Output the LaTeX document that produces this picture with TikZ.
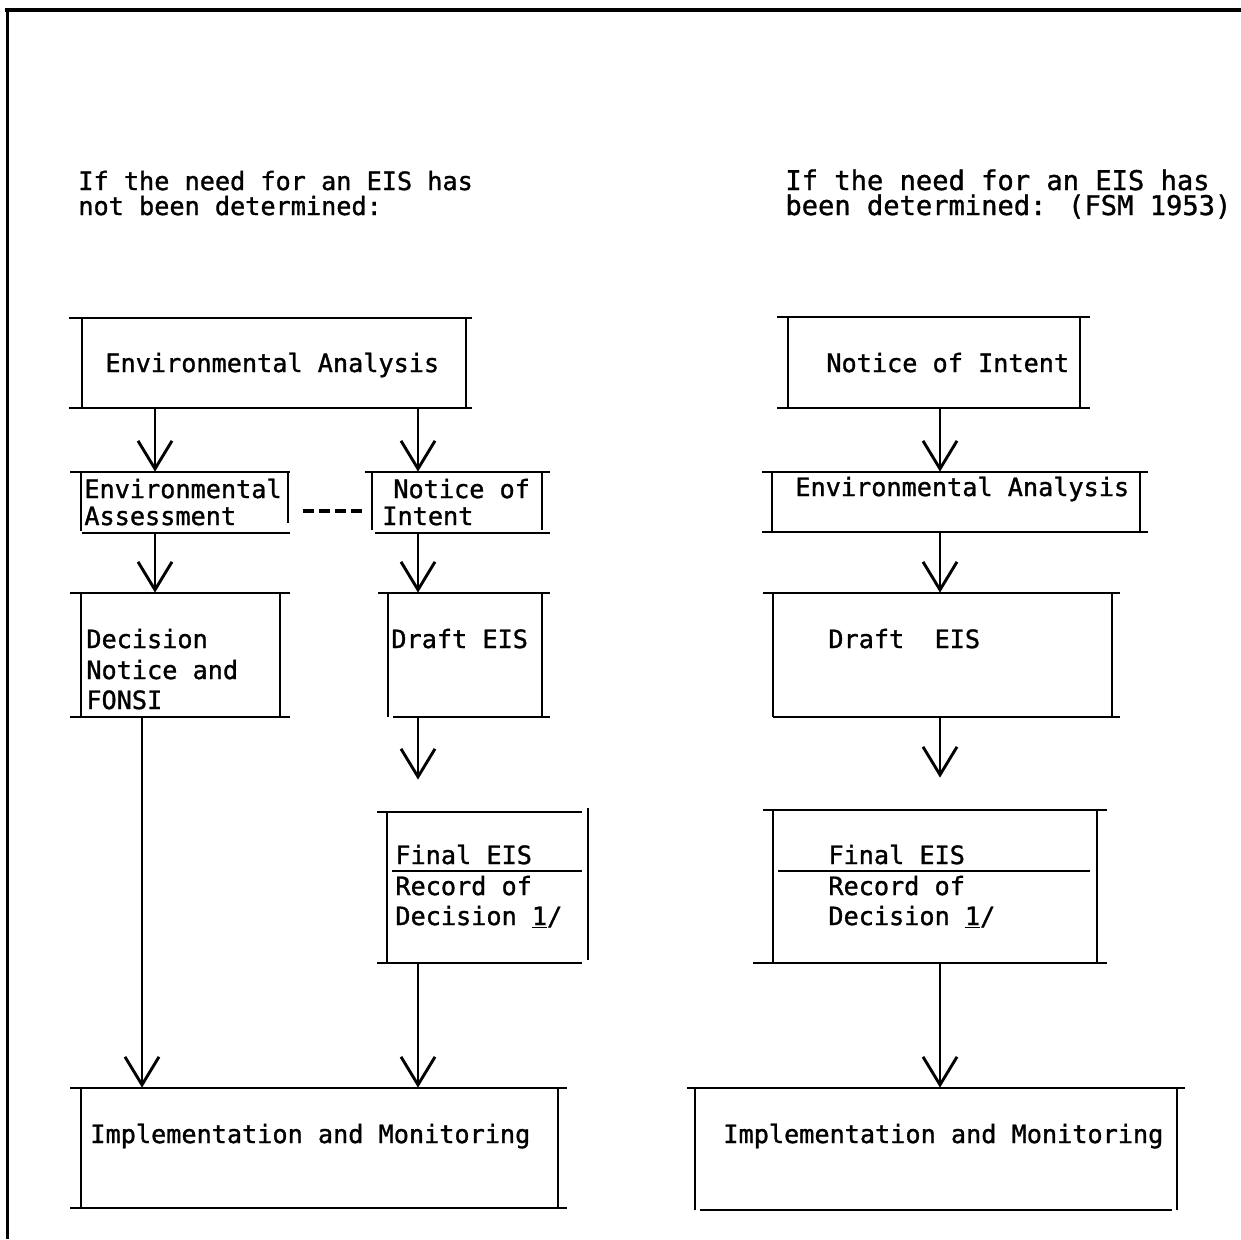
\documentclass[tikz,border=0pt]{standalone}
\usepackage{fontspec}
\newfontfamily\tw[FakeBold=1.2]{DejaVu Sans Mono}
\usetikzlibrary{arrows.meta,fit,calc}
\begin{document}
\begin{tikzpicture}[x=0.5pt,y=-0.5pt,
  ln/.style={line width=1.45pt},
  txt/.style={font=\tw\fontsize{12.6}{15}\selectfont, inner sep=0pt, anchor=base west},
  wide/.style={font=\tw\fontsize{13.55}{16}\selectfont},
  area/.style={inner sep=0pt, draw=none},
  arr/.style={line width=1.45pt, -{Straight Barb[length=14pt,width=17pt,line width=1.45pt]}},
  dashln/.style={line width=1.7pt, dash pattern=on 5.5pt off 2.5pt}]
\useasboundingbox (0,0) rectangle (1241,1239);
% frame
\draw[line width=2.4pt] (5,10) -- (1241,10);
\draw[line width=1.5pt] (7,10) -- (7,1239);
% headers
\node[txt] (hL1) at (78,190) {If the need for an EIS has};
\node[txt] (hL2) at (78,215) {not been determined:};
\node[txt,wide] (hR1) at (785,190) {If the need for an EIS has};
\node[txt,wide] (hR2) at (785,215) {been determined: (FSM 1953)};
% ---------- left column ----------
\node[area, fit={(82,318)(466,408)}] (ea) {};
\draw[ln] (69,318) -- (472,318); \draw[ln] (69,408) -- (472,408);
\draw[ln] (82,318) -- (82,408); \draw[ln] (466,318) -- (466,408);
\node[txt] (eaT) at (105,372) {Environmental Analysis};

\node[area, fit={(81,472)(288,533)}] (ass) {};
\draw[ln] (70,472) -- (290,472); \draw[ln] (82,533) -- (290,533);
\draw[ln] (81,472) -- (81,531); \draw[ln] (288,472) -- (288,523);
\node[txt] (assT1) at (84,498) {Environmental};
\node[txt] (assT2) at (84,525) {Assessment};

\node[area, fit={(372,472)(542,533)}] (noi) {};
\draw[ln] (365,472) -- (550,472); \draw[ln] (375,533) -- (550,533);
\draw[ln] (372,472) -- (372,530); \draw[ln] (542,472) -- (542,530);
\node[txt] (noiT1) at (393,498) {Notice of};
\node[txt] (noiT2) at (382,525) {Intent};

\draw[dashln] ($(ass.east)+(15,8.5)$) -- ($(noi.west)+(-10,8.5)$);

\node[area, fit={(81,593)(280,717)}] (dec) {};
\draw[ln] (70,593) -- (290,593); \draw[ln] (70,717) -- (290,717);
\draw[ln] (81,593) -- (81,717); \draw[ln] (280,593) -- (280,717);
\node[txt] (decT1) at (86,648) {Decision};
\node[txt] (decT2) at (86,679) {Notice and};
\node[txt] (decT3) at (86,709) {FONSI};

\node[area, fit={(388,593)(542,717)}] (dr) {};
\draw[ln] (378,593) -- (550,593); \draw[ln] (393,717) -- (550,717);
\draw[ln] (388,593) -- (388,717); \draw[ln] (542,593) -- (542,717);
\node[txt] (drT) at (391,648) {Draft EIS};

\node[area, fit={(387,812)(588,963)}] (fin) {};
\draw[ln] (377,812) -- (582,812); \draw[ln] (377,963) -- (582,963);
\draw[ln] (387,812) -- (387,963); \draw[ln] (588,808) -- (588,960);
\draw[ln] (392,871) -- (582,871);
\node[txt] (finT1) at (395,864) {Final EIS};
\node[txt] (finT2) at (395,895) {Record of};
\node[txt] (finT3) at (395,925) {Decision \underline{1}/};

\node[area, fit={(81,1088)(558,1208)}] (impL) {};
\draw[ln] (70,1088) -- (567,1088); \draw[ln] (70,1208) -- (567,1208);
\draw[ln] (81,1088) -- (81,1208); \draw[ln] (558,1088) -- (558,1208);
\node[txt] (impLT) at (90,1143) {Implementation and Monitoring};

% ---------- right column ----------
\node[area, fit={(788,317)(1080,408)}] (noiR) {};
\draw[ln] (777,317) -- (1090,317); \draw[ln] (777,408) -- (1090,408);
\draw[ln] (788,317) -- (788,408); \draw[ln] (1080,317) -- (1080,408);
\node[txt] (noiRT) at (826,372) {Notice of Intent};

\node[area, fit={(772,472)(1140,532)}] (eaR) {};
\draw[ln] (762,472) -- (1148,472); \draw[ln] (762,532) -- (1148,532);
\draw[ln] (772,472) -- (772,532); \draw[ln] (1140,472) -- (1140,532);
\node[txt] (eaRT) at (795,496) {Environmental Analysis};

\node[area, fit={(773,593)(1112,717)}] (drR) {};
\draw[ln] (763,593) -- (1120,593); \draw[ln] (773,717) -- (1120,717);
\draw[ln] (773,593) -- (773,717); \draw[ln] (1112,593) -- (1112,717);
\node[txt] (drRT) at (828,648) {Draft~~EIS};

\node[area, fit={(773,810)(1097,963)}] (finR) {};
\draw[ln] (763,810) -- (1107,810); \draw[ln] (753,963) -- (1107,963);
\draw[ln] (773,810) -- (773,963); \draw[ln] (1097,810) -- (1097,963);
\draw[ln] (778,871) -- (1090,871);
\node[txt] (finRT1) at (828,864) {Final EIS};
\node[txt] (finRT2) at (828,895) {Record of};
\node[txt] (finRT3) at (828,925) {Decision \underline{1}/};

\node[area, fit={(695,1088)(1177,1210)}] (impR) {};
\draw[ln] (687,1088) -- (1185,1088); \draw[ln] (700,1210) -- (1172,1210);
\draw[ln] (695,1088) -- (695,1210); \draw[ln] (1177,1088) -- (1177,1210);
\node[txt] (impRT) at (723,1143) {Implementation and Monitoring};

% ---------- connectors ----------
\coordinate (xa) at (155,0);
\coordinate (xb) at (418,0);
\coordinate (xc) at (142,0);
\coordinate (xr) at (940,0);
\draw[arr] (ea.south -| xa) -- (ass.north -| xa);
\draw[arr] (ea.south -| xb) -- (noi.north -| xb);
\draw[arr] (ass.south -| xa) -- (dec.north -| xa);
\draw[arr] (noi.south -| xb) -- (dr.north -| xb);
\draw[arr] (dr.south -| xb) -- ($(fin.north -| xb)+(0,-32)$);
\draw[arr] (fin.south -| xb) -- (impL.north -| xb);
\draw[arr] (dec.south -| xc) -- (impL.north -| xc);
\draw[arr] (noiR.south -| xr) -- (eaR.north -| xr);
\draw[arr] (eaR.south -| xr) -- (drR.north -| xr);
\draw[arr] (drR.south -| xr) -- ($(finR.north -| xr)+(0,-32)$);
\draw[arr] (finR.south -| xr) -- (impR.north -| xr);
\end{tikzpicture}
\end{document}
